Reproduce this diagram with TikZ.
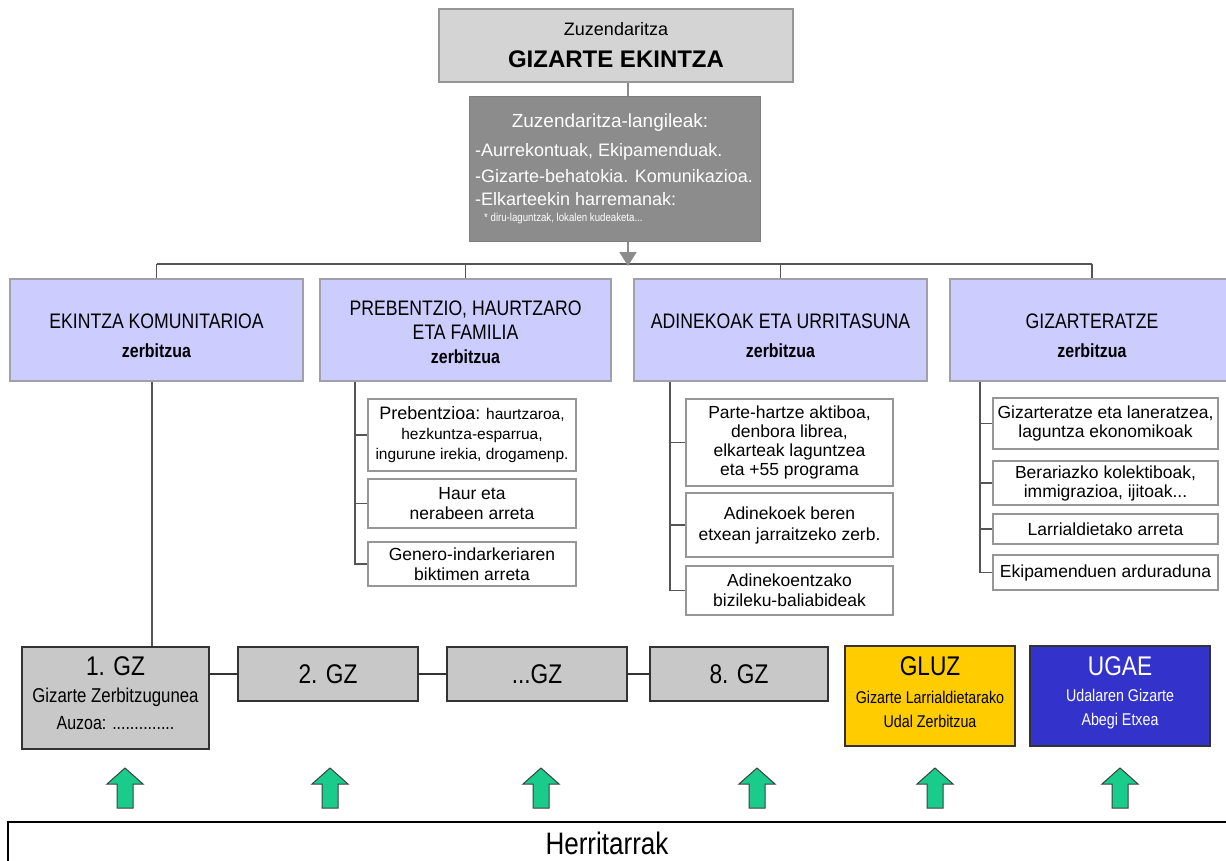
\documentclass[tikz,border=0pt]{standalone}
\usepackage{fontspec}
\setmainfont{Liberation Sans}
\newfontfamily\narrowfont{Liberation Sans}[FakeStretch=0.84]
\usetikzlibrary{arrows.meta}
\definecolor{svc}{RGB}{204,204,255}
\definecolor{svcborder}{RGB}{160,160,170}
\definecolor{topgrey}{RGB}{212,212,212}
\definecolor{staffgrey}{RGB}{140,140,140}
\definecolor{gzgrey}{RGB}{200,200,200}
\definecolor{linegrey}{RGB}{85,85,85}
\definecolor{subborder}{RGB}{150,150,150}
\definecolor{gluzyellow}{RGB}{255,204,0}
\definecolor{ugaeblue}{RGB}{51,51,204}
\definecolor{arrowgreen}{RGB}{25,204,140}
\newcommand\fs[2]{\fontsize{#1}{#2}\selectfont}
\begin{document}
\begin{tikzpicture}[x=1pt,y=-1pt,
  topbox/.style={draw=subborder, line width=2pt, fill=topgrey, inner sep=0pt},
  staffbox/.style={draw=staffgrey!90!black, line width=1pt, fill=staffgrey, inner sep=0pt},
  svcbox/.style={draw=svcborder, line width=2pt, fill=svc, inner sep=0pt, align=center, font=\narrowfont},
  subbox/.style={draw=subborder, line width=1.8pt, fill=white, inner sep=0pt, align=center},
  gzbox/.style={draw=black!80, line width=1.5pt, fill=gzgrey, inner sep=0pt, align=center},
  conn/.style={draw=linegrey, line width=1.6pt},
  txt/.style={inner sep=0pt, align=center},
  uparrow/.pic={\draw[fill=arrowgreen, draw=black!75, line width=1pt, line join=miter]
     (-8,40) -- (-8,16) -- (-18,16) -- (0,0) -- (18,16) -- (8,16) -- (8,40) -- cycle;}
]
\useasboundingbox (0,0) rectangle (1226,861);
\fill[white] (0,0) rectangle (1226,861);

% top
\node[topbox, minimum width=354pt, minimum height=73pt] (top) at (616,45.5) {};
\node[txt, font=\fs{18}{20}] (topa) at (616,29) {Zuzendaritza};
\node[txt, font=\bfseries\fs{24}{26}] (topb) at (616,59) {GIZARTE EKINTZA};

\node[staffbox, minimum width=291pt, minimum height=144pt] (staff) at (614.5,169) {};
\node[txt, text=white, font=\fs{19}{21}] (st0) at (610,123) {Zuzendaritza-langileak:};
\node[txt, text=white, font=\fs{18}{20}, anchor=west] (st1) at (475,152) {-Aurrekontuak, Ekipamenduak.};
\node[txt, text=white, font=\fs{18}{20}, anchor=west] (st2) at (475,176) {-Gizarte-behatokia. Komunikazioa.};
\node[txt, text=white, font=\fs{18}{20}, anchor=west] (st3) at (475,199) {-Elkarteekin harremanak:};
\node[txt, text=white, font=\narrowfont\fs{11.5}{13}, anchor=west] (st4) at (484,219) {* diru-laguntzak, lokalen kudeaketa...};

\draw[conn, draw=staffgrey] (top.south -| 628,0) -- (staff.north -| 628,0);

% services
\node[svcbox, minimum width=293pt, minimum height=102pt] (b1) at (156.5,330) {};
\node[txt, font=\narrowfont\fs{21}{24}] (b1a) at (156.5,321) {EKINTZA KOMUNITARIOA};
\node[txt, font=\narrowfont\bfseries\fs{19}{21}] (b1b) at (156.5,351) {zerbitzua};

\node[svcbox, minimum width=291pt, minimum height=102pt] (b2) at (465.5,330) {};
\node[txt, font=\narrowfont\fs{21}{24}] (b2a) at (465.5,320) {PREBENTZIO, HAURTZARO\\ETA FAMILIA};
\node[txt, font=\narrowfont\bfseries\fs{19}{21}] (b2b) at (465.5,357) {zerbitzua};

\node[svcbox, minimum width=293pt, minimum height=102pt] (b3) at (780.5,330) {};
\node[txt, font=\narrowfont\fs{21}{24}] (b3a) at (780.5,321) {ADINEKOAK ETA URRITASUNA};
\node[txt, font=\narrowfont\bfseries\fs{19}{21}] (b3b) at (780.5,351) {zerbitzua};

\node[svcbox, minimum width=284pt, minimum height=102pt] (b4) at (1092,330) {};
\node[txt, font=\narrowfont\fs{21}{24}] (b4a) at (1092,321) {GIZARTERATZE};
\node[txt, font=\narrowfont\bfseries\fs{19}{21}] (b4b) at (1092,351) {zerbitzua};

\coordinate (hl) at (0,264);
\draw[conn] (b1.north |- hl) -- (b4.north |- hl);
\foreach \b in {b1,b2,b3,b4} \draw[conn] (\b.north |- hl) -- (\b.north);
\draw[draw=staffgrey, line width=1.6pt, -{Triangle[length=14pt,width=17pt]}] (staff.south -| 628,0) -- (628,266);

% prebentzio sub-boxes
\node[subbox, minimum width=208pt, minimum height=72pt, font=\fs{15.5}{20}] (p1) at (472,435)
  {{\fs{18}{20}Prebentzioa:} haurtzaroa,\\hezkuntza-esparrua,\\ingurune irekia, drogamenp.};
\node[subbox, minimum width=208pt, minimum height=49pt, font=\fs{17.5}{20}] (p2) at (472,503.5) {Haur eta\\nerabeen arreta};
\node[subbox, minimum width=208pt, minimum height=44pt, font=\fs{17.5}{20}] (p3) at (472,564) {Genero-indarkeriaren\\biktimen arreta};
\coordinate (pl) at (355,0);
\draw[conn] (b2.south -| pl) |- (p3.west);
\draw[conn] (p1.west -| pl) -- (p1.west);
\draw[conn] (p2.west -| pl) -- (p2.west);

% adinekoak sub-boxes
\node[subbox, minimum width=207pt, minimum height=87pt, font=\fs{17.5}{19}] (a1) at (789.5,442.5) {Parte-hartze aktiboa,\\denbora librea,\\elkarteak laguntzea\\eta +55 programa};
\node[subbox, minimum width=207pt, minimum height=64pt, font=\fs{17.5}{21}] (a2) at (789.5,525) {Adinekoek beren\\etxean jarraitzeko zerb.};
\node[subbox, minimum width=207pt, minimum height=49pt, font=\fs{17.5}{20}] (a3) at (789.5,590.5) {Adinekoentzako\\bizileku-baliabideak};
\coordinate (al) at (670,0);
\draw[conn] (b3.south -| al) |- (a3.west);
\draw[conn] (a1.west -| al) -- (a1.west);
\draw[conn] (a2.west -| al) -- (a2.west);

% gizarteratze sub-boxes
\node[subbox, minimum width=225pt, minimum height=51pt, font=\fs{17.5}{19}] (g1) at (1105.5,423.5) {Gizarteratze eta laneratzea,\\laguntza ekonomikoak};
\node[subbox, minimum width=225pt, minimum height=44pt, font=\fs{17.5}{19}] (g2) at (1105.5,483) {Berariazko kolektiboak,\\immigrazioa, ijitoak...};
\node[subbox, minimum width=225pt, minimum height=30pt, font=\fs{17.5}{19}] (g3) at (1105.5,529) {Larrialdietako arreta};
\node[subbox, minimum width=225pt, minimum height=35pt, font=\fs{17.5}{19}] (g4) at (1105.5,572.5) {Ekipamenduen arduraduna};
\coordinate (gl) at (980,0);
\draw[conn] (b4.south -| gl) |- (g4.west);
\foreach \g in {g1,g2,g3} \draw[conn] (\g.west -| gl) -- (\g.west);

% bottom row
\node[gzbox, minimum width=187pt, minimum height=102pt] (z1) at (115.5,698) {};
\node[txt, font=\narrowfont\fs{27}{29}] (z1a) at (115.5,666) {1. GZ};
\node[txt, font=\narrowfont\fs{20}{22}] (z1b) at (115.5,697) {Gizarte Zerbitzugunea};
\node[txt, font=\narrowfont\fs{19}{21}] (z1c) at (115.5,723) {Auzoa: ..............};
\node[gzbox, minimum width=180pt, minimum height=54pt, font=\narrowfont\fs{27}{29}] (z2) at (328,674) {2. GZ};
\node[gzbox, minimum width=180pt, minimum height=54pt, font=\narrowfont\fs{27}{29}] (z3) at (537,674) {...GZ};
\node[gzbox, minimum width=178pt, minimum height=54pt, font=\narrowfont\fs{27}{29}] (z8) at (739,674) {8. GZ};
\draw[conn, draw=black!80] (z2.west -| z1.east) -- (z2.west);
\draw[conn, draw=black!80] (z2.east) -- (z3.west);
\draw[conn, draw=black!80] (z3.east) -- (z8.west);
\coordinate (zl) at (152,0);
\draw[conn] (b1.south -| zl) -- (z1.north -| zl);

\node[gzbox, fill=gluzyellow, minimum width=170pt, minimum height=100pt] (gluz) at (930,696) {};
\node[txt, font=\narrowfont\fs{27}{29}] (gluza) at (930,666) {GLUZ};
\node[txt, font=\narrowfont\fs{17}{24}] (gluzb) at (930,709) {Gizarte Larrialdietarako\\Udal Zerbitzua};
\node[gzbox, fill=ugaeblue, minimum width=180pt, minimum height=100pt] (ugae) at (1120,696) {};
\node[txt, text=white, font=\narrowfont\fs{27}{29}] (ugaea) at (1120,666) {UGAE};
\node[txt, text=white, font=\narrowfont\fs{17}{24}] (ugaeb) at (1120,709) {Udalaren Gizarte\\Abegi Etxea};

% arrows
\foreach \x in {125,330,541,757,935,1120} \pic at (\x,768) {uparrow};

% citizens
\draw[line width=2.5pt] (1240,822) -- (8,822) -- (8,880);
\node[txt, font=\narrowfont\fs{31}{33}] (herri) at (607,843) {Herritarrak};
\end{tikzpicture}
\end{document}
